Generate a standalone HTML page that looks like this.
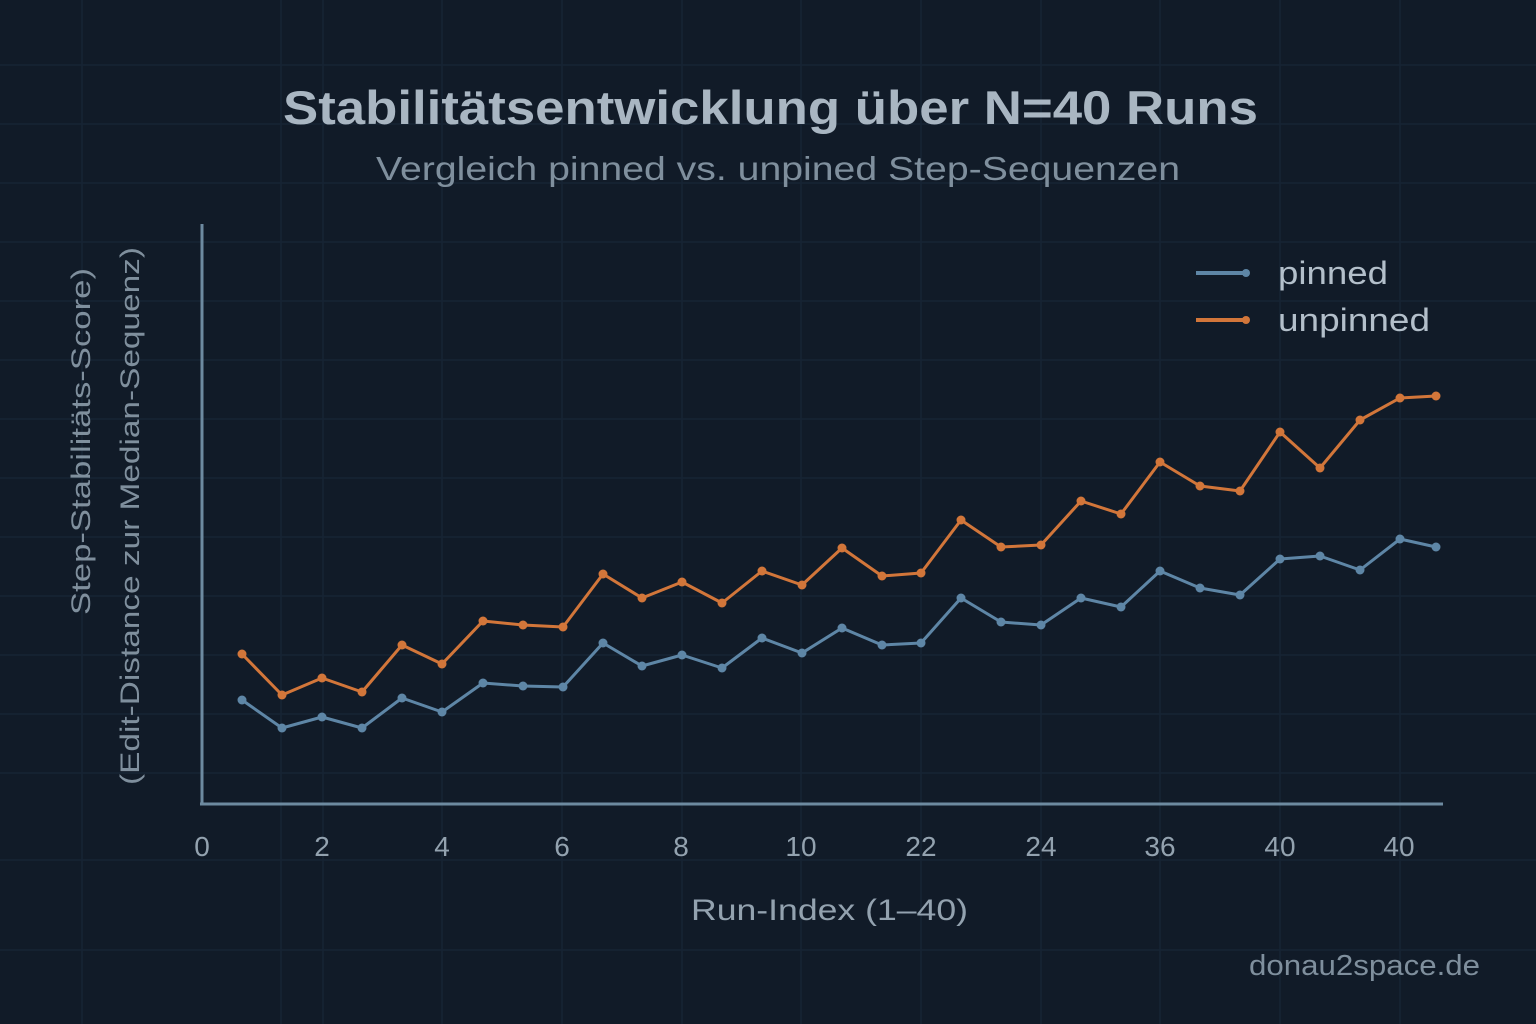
<!DOCTYPE html>
<html><head><meta charset="utf-8"><style>
html,body{margin:0;padding:0;background:#111b28;}
svg{display:block;}
text{font-family:"Liberation Sans",sans-serif;}
</style></head><body>
<svg width="1536" height="1024" viewBox="0 0 1536 1024" xmlns="http://www.w3.org/2000/svg">
<rect width="1536" height="1024" fill="#111b28"/>
<g stroke="#172434" stroke-width="1.5">
<line x1="0" y1="65" x2="1536" y2="65"/><line x1="0" y1="124" x2="1536" y2="124"/><line x1="0" y1="183" x2="1536" y2="183"/>
<line x1="0" y1="242" x2="1536" y2="242"/><line x1="0" y1="301" x2="1536" y2="301"/><line x1="0" y1="360" x2="1536" y2="360"/>
<line x1="0" y1="419" x2="1536" y2="419"/><line x1="0" y1="478" x2="1536" y2="478"/><line x1="0" y1="537" x2="1536" y2="537"/>
<line x1="0" y1="596" x2="1536" y2="596"/><line x1="0" y1="655" x2="1536" y2="655"/><line x1="0" y1="714" x2="1536" y2="714"/>
<line x1="0" y1="773" x2="1536" y2="773"/><line x1="0" y1="860" x2="1536" y2="860"/><line x1="0" y1="950" x2="1536" y2="950"/>
<line x1="82" y1="0" x2="82" y2="1024"/><line x1="281" y1="0" x2="281" y2="1024"/><line x1="323" y1="0" x2="323" y2="1024"/>
<line x1="442" y1="0" x2="442" y2="1024"/><line x1="562" y1="0" x2="562" y2="1024"/><line x1="682" y1="0" x2="682" y2="1024"/>
<line x1="801" y1="0" x2="801" y2="1024"/><line x1="921" y1="0" x2="921" y2="1024"/><line x1="1041" y1="0" x2="1041" y2="1024"/>
<line x1="1160" y1="0" x2="1160" y2="1024"/><line x1="1280" y1="0" x2="1280" y2="1024"/><line x1="1400" y1="0" x2="1400" y2="1024"/>
</g>
<line x1="202" y1="224" x2="202" y2="805" stroke="#6d8aa0" stroke-width="3"/>
<line x1="200" y1="804" x2="1443" y2="804" stroke="#6d8aa0" stroke-width="3"/>
<text x="283" y="124" textLength="975" lengthAdjust="spacingAndGlyphs" font-size="47" font-weight="bold" fill="#a9b6c2">Stabilitätsentwicklung über N=40 Runs</text>
<text x="376" y="180" textLength="804" lengthAdjust="spacingAndGlyphs" font-size="33" fill="#7f8f9d">Vergleich pinned vs. unpined Step-Sequenzen</text>
<text transform="translate(90,615) rotate(-90)" textLength="347" lengthAdjust="spacingAndGlyphs" font-size="27" fill="#7f8f9d">Step-Stabilitäts-Score)</text>
<text transform="translate(139,785) rotate(-90)" textLength="538" lengthAdjust="spacingAndGlyphs" font-size="27" fill="#7f8f9d">(Edit-Distance zur Median-Sequenz)</text>
<g font-size="28" fill="#93a2af" text-anchor="middle">
<text x="202" y="856">0</text><text x="322" y="856">2</text><text x="442" y="856">4</text><text x="562" y="856">6</text>
<text x="681" y="856">8</text><text x="801" y="856">10</text><text x="921" y="856">22</text><text x="1041" y="856">24</text>
<text x="1160" y="856">36</text><text x="1280" y="856">40</text><text x="1399" y="856">40</text>
</g>
<text x="691" y="920" textLength="277" lengthAdjust="spacingAndGlyphs" font-size="30" fill="#93a2af">Run-Index (1–40)</text>
<text x="1249" y="975" textLength="231" lengthAdjust="spacingAndGlyphs" font-size="29" fill="#7f8f9d">donau2space.de</text>
<line x1="1196" y1="273" x2="1248" y2="273" stroke="#5e86a6" stroke-width="4"/><circle cx="1246" cy="273" r="4" fill="#5e86a6"/>
<text x="1278" y="284" textLength="110" lengthAdjust="spacingAndGlyphs" font-size="32" fill="#b3bfca">pinned</text>
<line x1="1196" y1="320" x2="1248" y2="320" stroke="#d2763a" stroke-width="4"/><circle cx="1246" cy="320" r="4" fill="#d2763a"/>
<text x="1278" y="331" textLength="152" lengthAdjust="spacingAndGlyphs" font-size="32" fill="#b3bfca">unpinned</text>
<polyline fill="none" stroke="#5e86a6" stroke-width="3" stroke-linejoin="round" points="242,700 282,728 322,717 362,728 402,698 442,712 483,683 523,686 563,687 603,643 642,666 682,655 722,668 762,638 802,653 842,628 882,645 921,643 961,598 1001,622 1041,625 1081,598 1121,607 1160,571 1200,588 1240,595 1280,559 1320,556 1360,570 1400,539 1436,547"/>
<polyline fill="none" stroke="#d2763a" stroke-width="3" stroke-linejoin="round" points="242,654 282,695 322,678 362,692 402,645 442,664 483,621 523,625 563,627 603,574 642,598 682,582 722,603 762,571 802,585 842,548 882,576 921,573 961,520 1001,547 1041,545 1081,501 1121,514 1160,462 1200,486 1240,491 1280,432 1320,468 1360,420 1400,398 1436,396"/>
<g fill="#5e86a6">
<circle cx="242" cy="700" r="4.5"/><circle cx="282" cy="728" r="4.5"/><circle cx="322" cy="717" r="4.5"/><circle cx="362" cy="728" r="4.5"/><circle cx="402" cy="698" r="4.5"/><circle cx="442" cy="712" r="4.5"/><circle cx="483" cy="683" r="4.5"/><circle cx="523" cy="686" r="4.5"/><circle cx="563" cy="687" r="4.5"/><circle cx="603" cy="643" r="4.5"/><circle cx="642" cy="666" r="4.5"/><circle cx="682" cy="655" r="4.5"/><circle cx="722" cy="668" r="4.5"/><circle cx="762" cy="638" r="4.5"/><circle cx="802" cy="653" r="4.5"/><circle cx="842" cy="628" r="4.5"/><circle cx="882" cy="645" r="4.5"/><circle cx="921" cy="643" r="4.5"/><circle cx="961" cy="598" r="4.5"/><circle cx="1001" cy="622" r="4.5"/><circle cx="1041" cy="625" r="4.5"/><circle cx="1081" cy="598" r="4.5"/><circle cx="1121" cy="607" r="4.5"/><circle cx="1160" cy="571" r="4.5"/><circle cx="1200" cy="588" r="4.5"/><circle cx="1240" cy="595" r="4.5"/><circle cx="1280" cy="559" r="4.5"/><circle cx="1320" cy="556" r="4.5"/><circle cx="1360" cy="570" r="4.5"/><circle cx="1400" cy="539" r="4.5"/><circle cx="1436" cy="547" r="4.5"/>
</g>
<g fill="#d2763a">
<circle cx="242" cy="654" r="4.5"/><circle cx="282" cy="695" r="4.5"/><circle cx="322" cy="678" r="4.5"/><circle cx="362" cy="692" r="4.5"/><circle cx="402" cy="645" r="4.5"/><circle cx="442" cy="664" r="4.5"/><circle cx="483" cy="621" r="4.5"/><circle cx="523" cy="625" r="4.5"/><circle cx="563" cy="627" r="4.5"/><circle cx="603" cy="574" r="4.5"/><circle cx="642" cy="598" r="4.5"/><circle cx="682" cy="582" r="4.5"/><circle cx="722" cy="603" r="4.5"/><circle cx="762" cy="571" r="4.5"/><circle cx="802" cy="585" r="4.5"/><circle cx="842" cy="548" r="4.5"/><circle cx="882" cy="576" r="4.5"/><circle cx="921" cy="573" r="4.5"/><circle cx="961" cy="520" r="4.5"/><circle cx="1001" cy="547" r="4.5"/><circle cx="1041" cy="545" r="4.5"/><circle cx="1081" cy="501" r="4.5"/><circle cx="1121" cy="514" r="4.5"/><circle cx="1160" cy="462" r="4.5"/><circle cx="1200" cy="486" r="4.5"/><circle cx="1240" cy="491" r="4.5"/><circle cx="1280" cy="432" r="4.5"/><circle cx="1320" cy="468" r="4.5"/><circle cx="1360" cy="420" r="4.5"/><circle cx="1400" cy="398" r="4.5"/><circle cx="1436" cy="396" r="4.5"/>
</g>
</svg>
</body></html>
